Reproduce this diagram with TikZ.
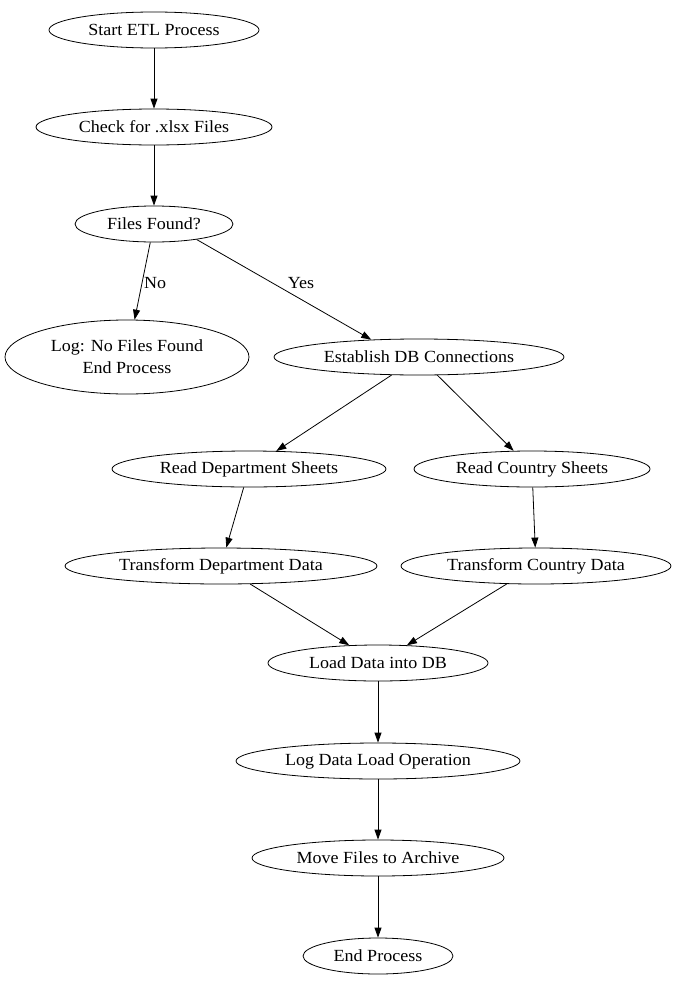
\documentclass[tikz,border=0pt]{standalone}
\usepackage{fontspec}
\setmainfont{Liberation Serif}[FakeStretch=1.06]
\usetikzlibrary{shapes.geometric,arrows.meta}
\begin{document}
\begin{tikzpicture}[x=1pt,y=-1pt,
  el/.style={draw,ellipse,inner sep=0pt,minimum height=36pt,font=\fontsize{17pt}{22pt}\selectfont,align=center,line width=0.8pt},
  ar/.style={-{Triangle[length=10pt,width=7pt]},line width=0.8pt},
  lb/.style={font=\fontsize{17pt}{22pt}\selectfont,inner sep=1pt}]
\useasboundingbox (0,0) rectangle (681,985);
\node[el,minimum width=210pt] (start) at (154,30) {Start ETL Process};
\node[el,minimum width=236pt] (check) at (154,127) {Check for .xlsx Files};
\node[el,minimum width=158pt] (found) at (154,224) {Files Found?};
\node[el,minimum width=244pt,minimum height=74pt] (nofiles) at (127,357) {Log: No Files Found\\End Process};
\node[el,minimum width=290pt] (db) at (419,357) {Establish DB Connections};
\node[el,minimum width=274pt] (rdept) at (249,469) {Read Department Sheets};
\node[el,minimum width=236pt] (rctry) at (532,469) {Read Country Sheets};
\node[el,minimum width=312pt] (tdept) at (221,566) {Transform Department Data};
\node[el,minimum width=270pt] (tctry) at (536,566) {Transform Country Data};
\node[el,minimum width=220pt] (load) at (378,663) {Load Data into DB};
\node[el,minimum width=284pt] (logop) at (378,761) {Log Data Load Operation};
\node[el,minimum width=252pt] (move) at (378,858) {Move Files to Archive};
\node[el,minimum width=150pt] (end) at (378,956) {End Process};
\draw[ar] (start) -- (check);
\draw[ar] (check) -- (found);
\draw[ar] (found) -- (nofiles);
\draw[ar] (found.-20) -- (db.160);
\draw[ar] (db) -- (rdept);
\draw[ar] (db) -- (rctry);
\draw[ar] (rdept) -- (tdept);
\draw[ar] (rctry) -- (tctry);
\draw[ar] (tdept) -- (load);
\draw[ar] (tctry) -- (load);
\draw[ar] (load) -- (logop);
\draw[ar] (logop) -- (move);
\draw[ar] (move) -- (end);
\node[lb,anchor=west] (lno) at (143,283) {No};
\node[lb] (lyes) at (301,283) {Yes};
\end{tikzpicture}
\end{document}
